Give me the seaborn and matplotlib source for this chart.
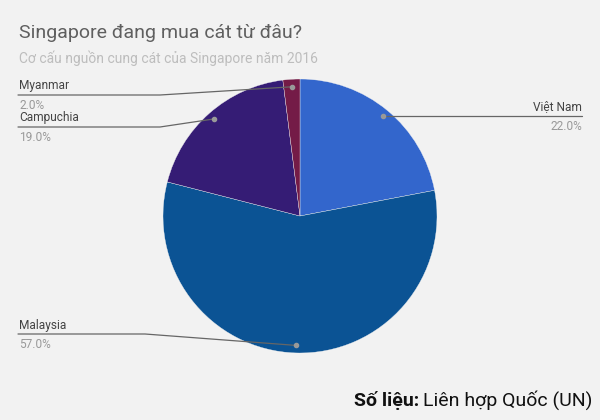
import matplotlib.pyplot as plt
import seaborn as sns
import numpy as np

# data
countries = ['Việt Nam', 'Malaysia', 'Campuchia', 'Myanmar']
shares = [22.0, 57.0, 19.0, 2.0]
colors = ['#3366cc', '#0b5394', '#351c75', '#741b47']

sns.set_theme(style="white", rc={'figure.facecolor': '#f2f2f2', 'axes.facecolor': '#f2f2f2'})
plt.rcParams['font.family'] = ['Roboto', 'DejaVu Sans']

fig = plt.figure(figsize=(6, 4.2), dpi=100)
ax = fig.add_axes([0, 0, 1, 1])

H = 420
cx, cy, R = 300, H - 216, 137
wedges, _ = ax.pie(shares, colors=sns.color_palette(colors), startangle=90, counterclock=False,
                   center=(cx, cy), radius=R, frame=True,
                   wedgeprops=dict(edgecolor='#f2f2f2', linewidth=0.25))
ax.set_xlim(0, 600)
ax.set_ylim(0, H)
ax.set_aspect('equal')
ax.axis('off')

# label layout: (side, line y px, elbow x px)
layout = {
    'Việt Nam': ('right', 116, None),
    'Malaysia': ('left', 334, 145),
    'Campuchia': ('left', 127, 160),
    'Myanmar': ('left', 95, 160),
}

for w, name, val in zip(wedges, countries, shares):
    mid = np.deg2rad((w.theta1 + w.theta2) / 2)
    dx = cx + 0.945 * R * np.cos(mid)
    dy = cy + 0.945 * R * np.sin(mid)
    side, ly, ex = layout[name]
    ly = H - ly
    if side == 'right':
        ax.plot([dx, 582], [ly, ly], color='#666666', lw=0.9)
        tx, ha = 582, 'right'
    else:
        ax.plot([18, ex, dx], [ly, ly, dy], color='#666666', lw=0.9)
        tx, ha = 19, 'left'
    ax.plot(dx, dy, 'o', color='#999999', ms=3)
    ax.text(tx, ly + 2.5, name, ha=ha, va='bottom', fontsize=8.6, color='#444444')
    ax.text(tx, ly - 4, f'{val:.1f}%', ha=ha, va='top', fontsize=8.6, color='#999999')

fig.text(19 / 600, 1 - 33 / H, 'Singapore đang mua cát từ đâu?', fontsize=14,
         color='#5f5f5f', va='center', ha='left')
fig.text(19 / 600, 1 - 58 / H, 'Cơ cấu nguồn cung cát của Singapore năm 2016', fontsize=10,
         color='#bdbdbd', va='center', ha='left')

src_font = ['Liberation Sans Narrow', 'Roboto', 'DejaVu Sans']
t = fig.text(592 / 600, 1 - 400 / H, 'Liên hợp Quốc (UN)', fontsize=14,
             color='#111111', va='center', ha='right', family=src_font)
fig.canvas.draw()
bb = t.get_window_extent()
fig.text(bb.x0 / 600 - 0.006, 1 - 400 / H, 'Số liệu:', fontsize=14, fontweight='bold',
         color='#111111', va='center', ha='right', family=src_font)

plt.savefig('out.png', dpi=100, facecolor='#f2f2f2')
